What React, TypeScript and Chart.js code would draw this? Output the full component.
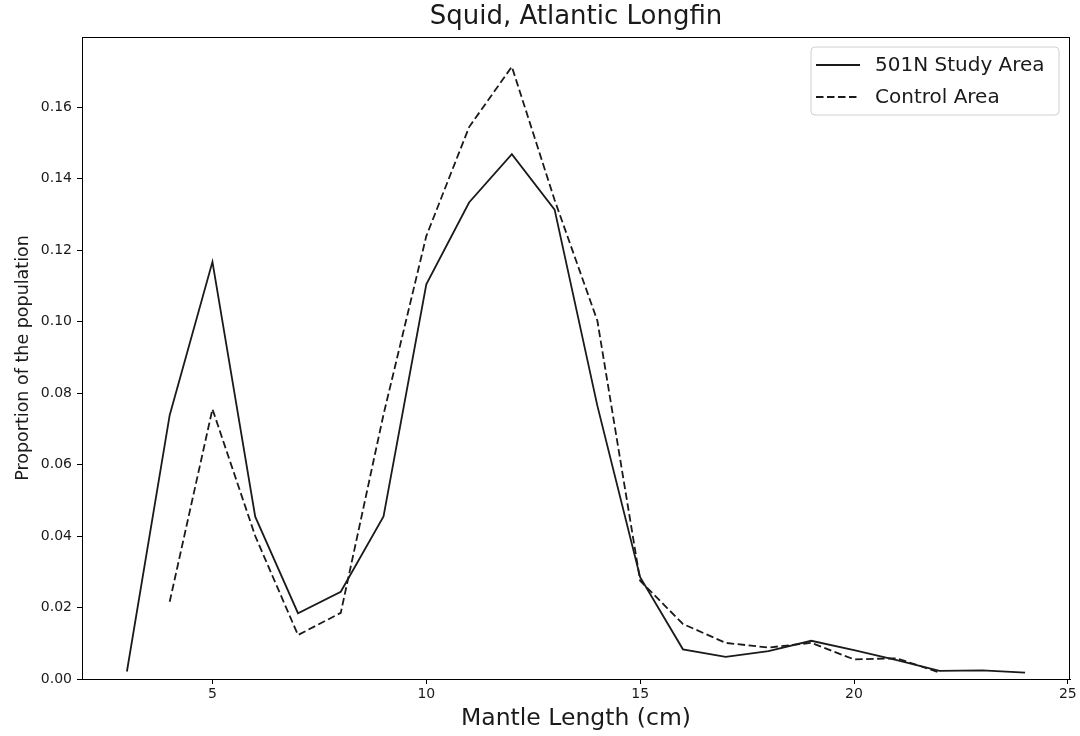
import React, { useEffect, useRef } from "react";
import { Chart, registerables } from "chart.js";

Chart.register(...registerables);

const studySizes = [3, 4, 5, 6, 7, 8, 9, 10, 11, 12, 13, 14, 15, 16, 17, 18, 19, 20, 21, 22, 23, 24];
const studyValues = [
  0.0021, 0.0738, 0.1167, 0.0454, 0.0184, 0.0244, 0.0455, 0.1104, 0.1333, 0.1468, 0.1313,
  0.0764, 0.0285, 0.0083, 0.0062, 0.0078, 0.0107, 0.0081, 0.0053, 0.0023, 0.0024, 0.0018,
];
const controlSizes = [4, 5, 6, 7, 8, 9, 10, 11, 12, 13, 14, 15, 16, 17, 18, 19, 20, 21, 22];
const controlValues = [
  0.0216, 0.0755, 0.04, 0.0123, 0.0185, 0.074, 0.1239, 0.1544, 0.1713, 0.134, 0.1002,
  0.0275, 0.0154, 0.0101, 0.0088, 0.0101, 0.0055, 0.0058, 0.0018,
];
const xTickValues = [5, 10, 15, 20, 25];
const yTickValues = [0, 0.02, 0.04, 0.06, 0.08, 0.1, 0.12, 0.14, 0.16];
const seriesLabels = ["501N Study Area", "Control Area"];

const FONT = "'DejaVu Sans', sans-serif";

const frameAndLegend = {
  id: "frameAndLegend",
  afterDatasetsDraw(chart: any) {
    const { ctx, chartArea } = chart;
    ctx.save();
    ctx.strokeStyle = "#000";
    ctx.lineWidth = 1;
    ctx.strokeRect(chartArea.left + 0.5, chartArea.top + 0.5, chartArea.right - chartArea.left - 1, chartArea.bottom - chartArea.top);
    // legend
    const bx = chartArea.right - 259;
    const by = chartArea.top + 10;
    const bw = 248;
    const bh = 68;
    ctx.beginPath();
    const r = 4;
    ctx.moveTo(bx + r, by);
    ctx.arcTo(bx + bw, by, bx + bw, by + bh, r);
    ctx.arcTo(bx + bw, by + bh, bx, by + bh, r);
    ctx.arcTo(bx, by + bh, bx, by, r);
    ctx.arcTo(bx, by, bx + bw, by, r);
    ctx.closePath();
    ctx.fillStyle = "rgba(255,255,255,0.85)";
    ctx.fill();
    ctx.strokeStyle = "#d0d0d0";
    ctx.lineWidth = 1;
    ctx.stroke();
    const dashes = [[], [7.5, 3.5]];
    chart.data.datasets.forEach((ds: any, i: number) => {
      const y = by + 18 + i * 32;
      ctx.beginPath();
      ctx.setLineDash(dashes[i]);
      ctx.strokeStyle = "#1a1a1a";
      ctx.lineWidth = 1.8;
      ctx.moveTo(bx + 5, y);
      ctx.lineTo(bx + 49, y);
      ctx.stroke();
      ctx.setLineDash([]);
      ctx.fillStyle = "#1a1a1a";
      ctx.font = `20px ${FONT}`;
      ctx.textBaseline = "middle";
      ctx.textAlign = "left";
      ctx.fillText(ds.label, bx + 64, y + 1);
    });
    ctx.restore();
  },
};

export default function App() {
  const canvasRef = useRef<HTMLCanvasElement | null>(null);

  useEffect(() => {
    const canvas = canvasRef.current;
    if (!canvas) return;
    const chart = new Chart(canvas, {
      type: "line",
      data: {
        datasets: [
          {
            label: seriesLabels[0],
            data: studySizes.map((x, i) => ({ x, y: studyValues[i] })),
            borderColor: "#1a1a1a",
            borderWidth: 1.8,
            pointRadius: 0,
            tension: 0,
            fill: false,
          },
          {
            label: seriesLabels[1],
            data: controlSizes.map((x, i) => ({ x, y: controlValues[i] })),
            borderColor: "#1a1a1a",
            borderWidth: 1.8,
            borderDash: [7.5, 3.5],
            pointRadius: 0,
            tension: 0,
            fill: false,
          },
        ],
      },
      options: {
        animation: false,
        responsive: false,
        maintainAspectRatio: false,
        layout: { padding: { left: 0, right: 10, top: 0, bottom: 0 } },
        plugins: {
          legend: { display: false },
          tooltip: { enabled: false },
          title: {
            display: true,
            text: "Squid, Atlantic Longfin",
            fullSize: false,
            color: "#1a1a1a",
            font: { family: FONT, size: 26, weight: "normal" },
            padding: { top: 2, bottom: 3.8 },
          },
        },
        scales: {
          x: {
            type: "linear",
            min: 1.95,
            max: 25.05,
            afterBuildTicks: (s: any) => {
              s.ticks = xTickValues.map((v) => ({ value: v }));
            },
            afterFit: (s: any) => {
              s.height = 57;
            },
            grid: {
              display: true,
              drawOnChartArea: false,
              drawTicks: true,
              tickLength: 5,
              color: "#000",
            },
            border: { display: true, color: "#000", width: 1 },
            ticks: {
              color: "#1a1a1a",
              font: { family: FONT, size: 14 },
              padding: 2,
              maxRotation: 0,
              callback: (v: any) => String(v),
            },
            title: {
              display: true,
              text: "Mantle Length (cm)",
              color: "#1a1a1a",
              font: { family: FONT, size: 23.5 },
              padding: { top: 0, bottom: 3 },
            },
          },
          y: {
            type: "linear",
            min: 0,
            max: 0.1796,
            afterBuildTicks: (s: any) => {
              s.ticks = yTickValues.map((v) => ({ value: v }));
            },
            afterFit: (s: any) => {
              s.width = 82;
            },
            grid: {
              display: true,
              drawOnChartArea: false,
              drawTicks: true,
              tickLength: 5,
              color: "#000",
            },
            border: { display: true, color: "#000", width: 1 },
            ticks: {
              color: "#1a1a1a",
              font: { family: FONT, size: 14 },
              padding: 5,
              callback: (v: any) => Number(v).toFixed(2),
            },
            title: {
              display: true,
              text: "Proportion of the population",
              color: "#1a1a1a",
              font: { family: FONT, size: 17.5 },
              padding: { top: 12.5, bottom: 0 },
            },
          },
        },
      },
      plugins: [frameAndLegend],
    });
    return () => chart.destroy();
  }, []);

  return (
    <div style={{ position: "fixed", left: 0, top: 0, width: 1080, height: 736, background: "#fff" }}>
      <canvas ref={canvasRef} width={1080} height={736} style={{ width: 1080, height: 736, display: "block" }} />
    </div>
  );
}
